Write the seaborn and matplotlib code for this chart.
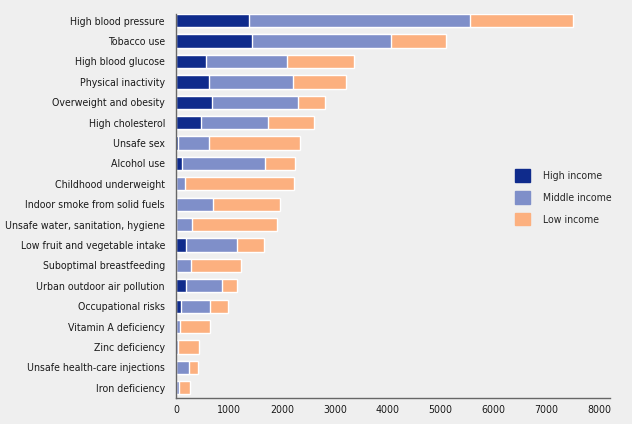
import seaborn as sb
import matplotlib.pyplot as plt
import matplotlib.patches as mpatches
import pandas as pd
import numpy as np

risks = ['High blood pressure', 'Tobacco use', 'High blood glucose', 'Physical inactivity',
         'Overweight and obesity', 'High cholesterol', 'Unsafe sex', 'Alcohol use',
         'Childhood underweight', 'Indoor smoke from solid fuels',
         'Unsafe water, sanitation, hygiene', 'Low fruit and vegetable intake',
         'Suboptimal breastfeeding', 'Urban outdoor air pollution', 'Occupational risks',
         'Vitamin A deficiency', 'Zinc deficiency', 'Unsafe health-care injections',
         'Iron deficiency']
high_income = [1380, 1440, 570, 620, 680, 470, 40, 115, 0, 0, 0, 190, 0, 190, 90, 0, 0, 0, 0]
middle_income = [4165, 2620, 1530, 1590, 1625, 1260, 585, 1560, 170, 690, 300, 960, 290, 680, 555, 75, 45, 250, 60]
low_income = [1955, 1035, 1270, 1000, 510, 880, 1720, 565, 2050, 1265, 1600, 520, 945, 280, 345, 570, 385, 165, 205]

c_high = '#0f2b8c'
c_mid = '#7f8fc9'
c_low = '#fcb07f'
bg = '#efefef'

data = pd.DataFrame({'risk': risks, 'high': high_income, 'mid': middle_income, 'low': low_income})
data['high_mid'] = data['high'] + data['mid']
data['total'] = data['high_mid'] + data['low']

sb.set_style('white')
plt.rcParams['font.family'] = ['DejaVu Sans']
plt.rcParams['font.stretch'] = 'condensed'

fig = plt.figure(figsize=(6.32, 4.24), dpi=100, facecolor=bg)
ax = fig.add_axes([0.2785, 0.062, 0.687, 0.905])
ax.set_facecolor(bg)

# stacked bars: draw totals first, then cover with partial sums
sb.barplot(x='total', y='risk', data=data, color=c_low, width=0.65, ax=ax, saturation=1)
sb.barplot(x='high_mid', y='risk', data=data, color=c_mid, width=0.65, ax=ax, saturation=1)
sb.barplot(x='high', y='risk', data=data, color=c_high, width=0.65, ax=ax, saturation=1)

ax.set_xlim(0, 8200)
ax.set_ylim(18.49, -0.33)
ax.set_xticks(np.arange(0, 8001, 1000))
ax.set_xlabel('')
ax.set_ylabel('')
ax.tick_params(axis='both', length=0, labelsize=7.6, colors='#1a1a1a')
ax.tick_params(axis='y', pad=8)
ax.tick_params(axis='x', pad=5)
for s in ['top', 'right']:
    ax.spines[s].set_visible(False)
for s in ['left', 'bottom']:
    ax.spines[s].set_color('#666666')
    ax.spines[s].set_linewidth(1)

handles = [mpatches.Patch(color=c_high, label='High income'),
           mpatches.Patch(color=c_mid, label='Middle income'),
           mpatches.Patch(color=c_low, label='Low income')]
ax.legend(handles=handles, loc='upper left', bbox_to_anchor=(0.758, 0.62), frameon=False,
          fontsize=7.6, handlelength=1.5, handleheight=1.45, handletextpad=1.15, labelspacing=0.88)

plt.savefig('out.png', dpi=100, facecolor=bg)
